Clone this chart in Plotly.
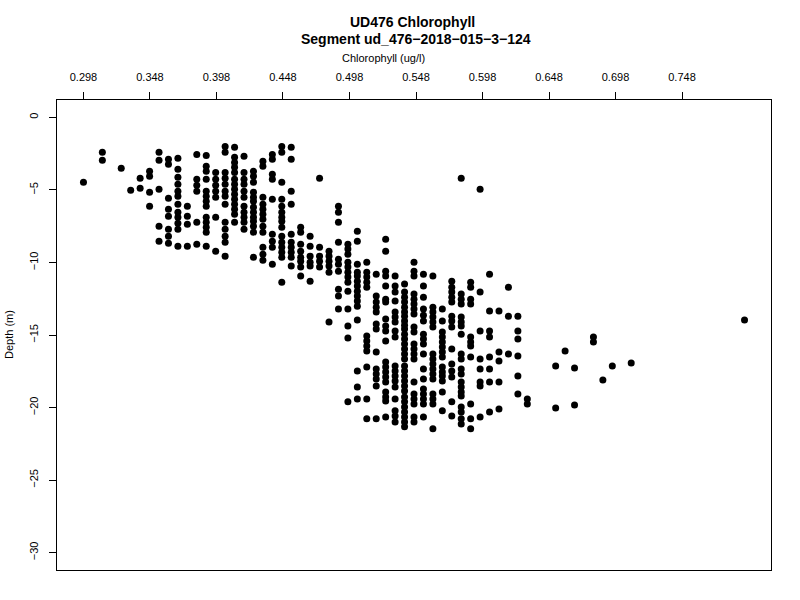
import plotly.graph_objects as go

# Chlorophyll value of each sampled column (ug/l)
column_chl = [0.298, 0.3122, 0.3264, 0.3335, 0.3406, 0.3477, 0.3548, 0.3619, 0.369, 0.3761,
              0.3832, 0.3903, 0.3974, 0.4045, 0.4116, 0.4187, 0.4258, 0.4329, 0.44, 0.4471,
              0.4542, 0.4613, 0.4684, 0.4755, 0.4826, 0.4897, 0.4968, 0.5039, 0.511, 0.5181,
              0.5252, 0.5323, 0.5394, 0.5465, 0.5536, 0.5607, 0.5678, 0.5749, 0.582, 0.5891,
              0.5962, 0.6033, 0.6104, 0.6175, 0.6246, 0.6317, 0.653, 0.6601, 0.6672, 0.6814,
              0.6885, 0.6956, 0.7098, 0.795]

# Depths (m) observed at each chlorophyll column
column_depths = [
    [-4.47],
    [-2.41, -2.96],
    [-3.51],
    [-5.02],
    [-4.20, -4.89],
    [-3.72, -4.06, -5.16, -6.13],
    [-2.41, -2.96, -4.96, -7.50, -8.53],
    [-2.89, -3.23, -5.57, -6.33, -6.81, -7.71, -8.19, -8.67],
    [-2.82, -3.58, -4.13, -4.61, -5.09, -5.44, -5.99, -6.54, -6.88, -7.30, -7.71, -8.88],
    [-6.13, -6.81, -7.36, -8.88],
    [-2.55, -4.27, -4.68, -5.09, -7.23, -8.74],
    [-2.62, -3.37, -3.72, -4.27, -5.09, -5.44, -5.78, -6.13, -6.88, -7.23, -7.57, -7.91, -8.88],
    [-3.79, -4.27, -4.68, -5.09, -5.51, -6.88, -9.22],
    [-2.00, -2.41, -3.79, -4.20, -4.61, -5.09, -5.44, -5.99, -7.23, -7.71, -8.19, -8.60, -9.57],
    [-2.06, -2.75, -3.10, -3.44, -3.79, -4.27, -4.61, -4.96, -5.30, -5.64, -5.99, -6.33, -6.68, -7.23],
    [-2.68, -3.79, -4.27, -4.61, -5.09, -5.51, -6.13, -6.54, -6.88, -7.23, -7.71],
    [-3.72, -4.06, -4.47, -5.16, -5.51, -5.78, -6.19, -6.54, -6.88, -7.16, -7.50, -7.91, -9.64],
    [-3.03, -3.37, -5.51, -5.99, -6.33, -6.68, -7.02, -7.50, -7.91, -8.95, -9.43, -9.84],
    [-2.55, -2.89, -3.92, -4.27, -5.64, -8.05, -8.53, -8.95, -10.12],
    [-2.00, -2.41, -4.47, -5.64, -6.13, -6.54, -6.88, -7.16, -7.57, -8.19, -8.60, -8.95, -9.29, -9.64, -11.36],
    [-2.06, -2.89, -5.09, -5.99, -8.05, -8.60, -8.95, -9.29, -9.64, -10.25],
    [-7.57, -7.91, -8.74, -9.22, -9.64, -9.91, -10.32, -10.94],
    [-8.19, -8.88, -9.57, -9.98, -10.25, -11.29],
    [-4.20, -8.95, -9.57, -9.91, -10.32],
    [-9.22, -9.57, -9.91, -10.25, -10.67, -14.11],
    [-6.13, -6.54, -7.23, -8.60, -9.77, -10.12, -10.60, -11.84, -12.32, -13.21],
    [-8.74, -9.08, -9.43, -9.98, -10.32, -10.67, -11.01, -11.36, -11.98, -13.21, -14.38, -15.21, -19.61],
    [-7.85, -8.53, -10.12, -10.67, -10.94, -11.29, -11.63, -11.98, -12.32, -12.66, -13.01, -13.97, -17.48, -18.58, -19.41],
    [-9.98, -10.67, -11.01, -11.36, -11.70, -15.07, -15.42, -15.76, -16.10, -17.21, -19.41, -20.78],
    [-10.81, -12.32, -12.73, -13.08, -13.42, -14.25, -14.59, -16.17, -17.34, -17.69, -18.03, -18.51, -20.78],
    [-8.40, -9.22, -10.60, -10.94, -11.63, -12.53, -12.73, -13.90, -14.38, -14.73, -15.42, -16.86, -17.21, -17.55, -17.89, -18.24, -18.93, -19.27, -19.55, -20.65],
    [-10.94, -11.63, -12.04, -12.66, -13.42, -13.76, -14.11, -14.73, -15.14, -17.14, -17.48, -17.82, -18.17, -18.58, -19.41, -20.23, -20.58, -20.99],
    [-11.49, -12.04, -12.39, -12.73, -13.08, -13.42, -13.70, -14.04, -14.32, -14.59, -14.94, -15.28, -15.62, -15.97, -16.31, -16.66, -17.14, -17.48, -17.82, -18.17, -18.51, -18.86, -19.27, -19.61, -19.96, -20.30, -20.65, -20.99, -21.33],
    [-9.98, -10.60, -10.94, -12.18, -12.53, -12.87, -13.21, -13.56, -14.45, -14.80, -15.62, -15.97, -16.31, -16.66, -18.24, -19.06, -19.41, -19.75, -20.65, -20.99],
    [-10.81, -11.63, -12.39, -13.21, -13.63, -14.04, -14.94, -15.28, -15.62, -16.31, -17.34, -18.03, -18.72, -19.06, -19.41, -19.75, -20.65],
    [-10.94, -13.08, -13.42, -13.76, -14.11, -14.45, -16.31, -16.66, -17.00, -17.34, -17.69, -18.03, -19.06, -19.41, -19.75, -21.47],
    [-13.21, -14.04, -14.80, -15.14, -15.48, -15.83, -16.17, -16.52, -17.21, -17.55, -17.82, -18.17, -18.93, -20.23],
    [-11.29, -11.70, -12.04, -12.39, -12.73, -13.70, -14.04, -14.45, -15.97, -17.00, -17.48, -17.89, -19.61, -20.58],
    [-4.20, -12.18, -12.53, -12.87, -13.76, -14.11, -14.38, -14.94, -16.31, -16.66, -17.34, -17.69, -18.24, -18.58, -18.93, -19.20, -19.96, -20.30, -20.78, -21.13],
    [-11.36, -11.70, -12.53, -12.87, -15.14, -15.48, -15.76, -16.52, -19.75, -20.78, -21.47],
    [-4.96, -12.04, -14.73, -16.66, -17.34, -18.24, -18.51, -20.65],
    [-10.81, -13.35, -14.73, -15.14, -16.52, -17.34, -18.24, -20.30],
    [-13.35, -16.17, -16.79, -18.24, -20.10],
    [-11.70, -13.70, -16.31],
    [-13.70, -14.73, -15.28, -16.45, -17.82, -19.06],
    [-19.41, -19.75],
    [-17.14, -20.03],
    [-16.10],
    [-17.27, -19.82],
    [-15.14, -15.48],
    [-18.10],
    [-17.14],
    [-16.93],
    [-13.97],
]

x_tick_vals = [0.298, 0.348, 0.398, 0.448, 0.498, 0.548, 0.598, 0.648, 0.698, 0.748]
x_tick_text = ["0.298", "0.348", "0.398", "0.448", "0.498", "0.548", "0.598", "0.648", "0.698", "0.748"]
y_tick_vals = [0, -5, -10, -15, -20, -25, -30]
y_tick_text = ["0", "\u22125", "\u221210", "\u221215", "\u221220", "\u221225", "\u221230"]

chl = []
depth = []
for c, ds in zip(column_chl, column_depths):
    for d in ds:
        chl.append(c)
        depth.append(d)

FONT = "Liberation Sans, Arial, sans-serif"
FW, FH = 800, 600
ML, MR, MT, MB = 57, 29, 100, 30
PW = FW - ML - MR
PH = FH - MT - MB


def px_x(px):
    return (px - ML) / PW


def px_y(py):
    return (FH - MB - py) / PH


fig = go.Figure()
fig.add_trace(go.Scatter(
    x=chl, y=depth, mode="markers",
    marker=dict(color="black", size=7, line=dict(width=0)),
    showlegend=False,
))

fig.update_layout(
    width=FW, height=FH,
    margin=dict(l=ML, r=MR, t=MT, b=MB, autoexpand=False),
    paper_bgcolor="white", plot_bgcolor="white",
    font=dict(family=FONT, size=11, color="black"),
    xaxis=dict(
        side="top", range=[0.2781, 0.8149], tickvals=x_tick_vals, ticktext=x_tick_text,
        ticks="outside", ticklen=7, tickcolor="black", tickwidth=1, ticklabelstandoff=7,
        showline=True, linecolor="black", linewidth=1, mirror=True, automargin=False,
        showgrid=False, zeroline=False, tickfont=dict(size=11, family=FONT),
    ),
    yaxis=dict(
        range=[-31.2, 1.2], tickvals=y_tick_vals, ticktext=y_tick_text,
        ticks="outside", ticklen=7, tickcolor="black", tickwidth=1, tickangle=-90,
        ticklabelstandoff=7,
        showline=True, linecolor="black", linewidth=1, mirror=True, automargin=False,
        showgrid=False, zeroline=False, tickfont=dict(size=11, family=FONT),
    ),
    annotations=[
        dict(text="<b>UD476 Chlorophyll</b>", x=px_x(412), y=px_y(22),
             xref="paper", yref="paper", xanchor="center", yanchor="middle",
             showarrow=False, font=dict(size=14, family=FONT)),
        dict(text="<b>Segment ud_476\u22122018\u2212015\u22123\u2212124</b>", x=px_x(416), y=px_y(39),
             xref="paper", yref="paper", xanchor="center", yanchor="middle",
             showarrow=False, font=dict(size=14, family=FONT)),
        dict(text="Chlorophyll (ug/l)", x=px_x(383), y=px_y(58),
             xref="paper", yref="paper", xanchor="center", yanchor="middle",
             showarrow=False, font=dict(size=11, family=FONT)),
        dict(text="Depth (m)", x=px_x(9), y=px_y(335), textangle=-90,
             xref="paper", yref="paper", xanchor="center", yanchor="middle",
             showarrow=False, font=dict(size=11, family=FONT)),
    ],
)

# Remove the browser's default 8px body margin so the 800x600 figure fills the window.
fig.write_html("out.html", config={"displayModeBar": False},
               post_script="document.body.style.margin='0';")
